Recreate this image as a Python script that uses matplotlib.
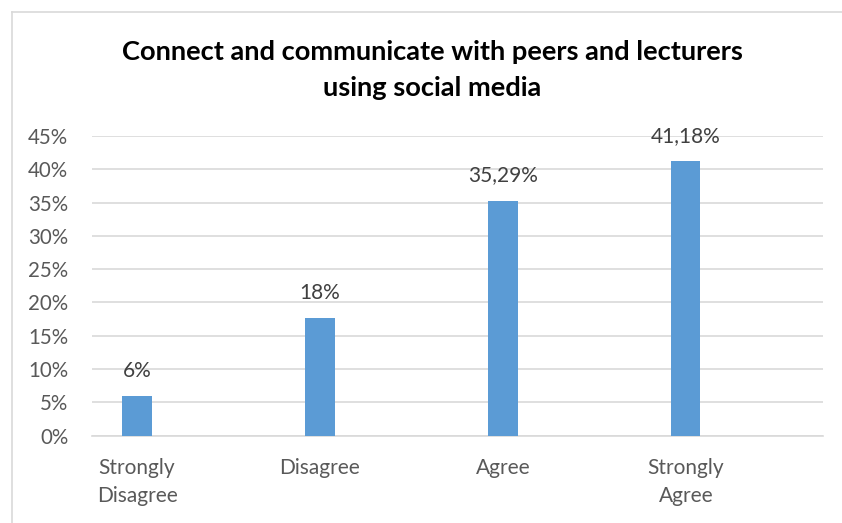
import matplotlib.pyplot as plt
from matplotlib.lines import Line2D

plt.rcParams['font.family'] = ['Lato', 'DejaVu Sans']

# Data
categories = ['Strongly\nDisagree', 'Disagree', 'Agree', 'Strongly\nAgree']
values = [5.88, 17.65, 35.29, 41.18]
value_labels = ['6%', '18%', '35,29%', '41,18%']
yticks = [0, 5, 10, 15, 20, 25, 30, 35, 40, 45]

W, H = 842, 523
fig = plt.figure(figsize=(W / 100, H / 100), dpi=100)
ax = fig.add_axes([92 / W, 1 - 435.5 / H, (823 - 92) / W, (435.5 - 136) / H])

x = range(len(categories))
ax.bar(x, values, width=0.16, color='#5B9BD5', zorder=3)
for xi, v, lab in zip(x, values, value_labels):
    ax.text(xi, v + 2.3, lab, ha='center', va='bottom', fontsize=15, color='#404040')

ax.set_xlim(-0.246, 3.75)
ax.set_ylim(0, 45)
ax.set_yticks(yticks)
ax.set_yticklabels([f'{t}%' for t in yticks], fontsize=14.8, color='#595959')
ax.set_xticks(list(x))
ax.set_xticklabels(categories, fontsize=15, color='#595959', linespacing=1.5)
ax.tick_params(axis='both', length=0)
ax.tick_params(axis='x', pad=16)
ax.tick_params(axis='y', pad=17)
ax.yaxis.grid(True, color='#D9D9D9', linewidth=1.2, zorder=0)
for s in ['top', 'right', 'left']:
    ax.spines[s].set_visible(False)
ax.spines['bottom'].set_color('#D9D9D9')
ax.spines['bottom'].set_linewidth(1.2)

fig.text(432 / W, 1 - 70 / H, 'Connect and communicate with peers and lecturers\nusing social media',
         ha='center', va='center', fontsize=19.6, fontweight='bold', color='black', linespacing=1.58)

# chart border (left and top edges visible)
fig.add_artist(Line2D([11.5 / W, 11.5 / W], [0, 1 - 11.5 / H], transform=fig.transFigure, color='#D9D9D9', lw=1.2))
fig.add_artist(Line2D([11.5 / W, 1], [1 - 11.5 / H, 1 - 11.5 / H], transform=fig.transFigure, color='#D9D9D9', lw=1.2))

fig.savefig('out.png', dpi=100)
